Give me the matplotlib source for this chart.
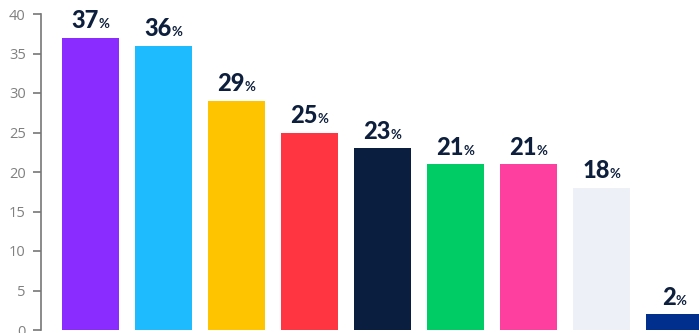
import matplotlib
matplotlib.use("Agg")
import matplotlib.pyplot as plt
from matplotlib.offsetbox import TextArea, HPacker, AnnotationBbox

values = [37, 36, 29, 25, 23, 21, 21, 18, 2]
colors = ["#8A2BFF", "#1FBBFF", "#FFC400", "#FF3542", "#0A1F3F",
          "#00CC66", "#FF3FA0", "#EEF0F8", "#002F8E"]
yticks = [0, 5, 10, 15, 20, 25, 30, 35, 40]

fig = plt.figure(figsize=(6.99, 3.33), dpi=100)
ax = fig.add_axes([41 / 699, 3 / 333, 1 - 41 / 699, 316 / 333])

x = list(range(len(values)))
ax.bar(x, values, width=0.78, color=colors, zorder=2)

ax.set_ylim(0, 40)
ax.set_xlim(-0.678, 8.336)
ax.set_yticks(yticks)
ax.set_xticks([])
for side in ("top", "right", "bottom"):
    ax.spines[side].set_visible(False)
ax.spines["left"].set_color("#777777")
ax.spines["left"].set_linewidth(1.2)
ax.tick_params(axis="y", colors="#777777", length=6, width=1.2, pad=5,
               labelsize=10.5)
for lab in ax.get_yticklabels():
    lab.set_color("#808080")
    lab.set_family("Open Sans")

label_color = "#0D1F3C"
for xi, v in zip(x, values):
    num = TextArea(str(v), textprops=dict(color=label_color, fontsize=17,
                                          fontweight="black", family="Lato"))
    pct = TextArea("%", textprops=dict(color=label_color, fontsize=9.5,
                                       fontweight="bold", family="Lato"))
    pack = HPacker(children=[num, pct], align="baseline", pad=0, sep=0)
    ab = AnnotationBbox(pack, (xi, v), xybox=(0, 4), xycoords="data",
                        boxcoords="offset points", box_alignment=(0.5, 0),
                        frameon=False, annotation_clip=False)
    ax.add_artist(ab)

fig.savefig("out.png", dpi=100)
